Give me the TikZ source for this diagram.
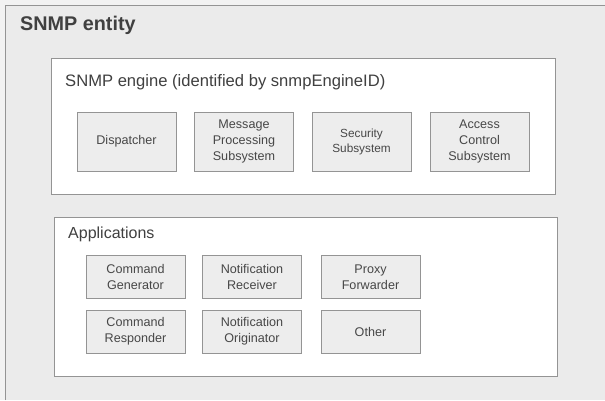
\documentclass[tikz,border=0pt]{standalone}
\usepackage{fontspec}
\setmainfont{Liberation Sans}
\begin{document}
\begin{tikzpicture}[x=1pt,y=-1pt,
  frame/.style={draw=black!42,line width=0.9pt},
  panel/.style={frame,fill=white,anchor=north west,inner sep=0pt},
  part/.style={frame,fill=black!7,text=black!72,align=center,inner sep=1pt,
    minimum width=99pt,font=\fontsize{12.6}{15.8}\selectfont},
  enginepart/.style={part,minimum height=59pt},
  apppart/.style={part,minimum height=43pt},
  heading/.style={anchor=west,text=black!75,inner sep=0pt}]
\useasboundingbox (0,0) rectangle (605,400);
% page and entity frame
\fill[black!5] (0,0) rectangle (605,400);
\fill[black!8] (5,5) rectangle (605,400);
\draw[frame] (5,400) -- (5,5) -- (605,5);
\node[heading,font=\fontsize{19.8}{23}\bfseries\selectfont] (entity) at (20,25) {SNMP entity};

% engine panel
\node[panel,minimum width=504pt,minimum height=136pt] (engine) at (51,58) {};
\node[heading,font=\fontsize{16.6}{19}\selectfont] (enginetitle) at (65,82) {SNMP engine (identified by snmpEngineID)};
\node[enginepart] (disp) at (126.5,141.5) {Dispatcher};
\node[enginepart] (mps) at (244,141.5) {Message\\Processing\\Subsystem};
\node[enginepart,font=\fontsize{11.8}{15}\selectfont] (sec) at (361.5,141.5) {Security\\Subsystem};
\node[enginepart] (acs) at (479.5,141.5) {Access\\Control\\Subsystem};

% applications panel
\node[panel,minimum width=503pt,minimum height=159pt] (apps) at (54,217) {};
\node[heading,font=\fontsize{16}{19}\selectfont] (appstitle) at (68,234) {Applications};
\node[apppart] (cgen) at (135.5,277) {Command\\Generator};
\node[apppart] (nrec) at (252,277) {Notification\\Receiver};
\node[apppart] (pfwd) at (370.5,277) {Proxy\\Forwarder};
\node[apppart] (cresp) at (135.5,331.5) {Command\\Responder};
\node[apppart] (norig) at (252,331.5) {Notification\\Originator};
\node[apppart] (other) at (370.5,331.5) {Other};
\end{tikzpicture}
\end{document}
